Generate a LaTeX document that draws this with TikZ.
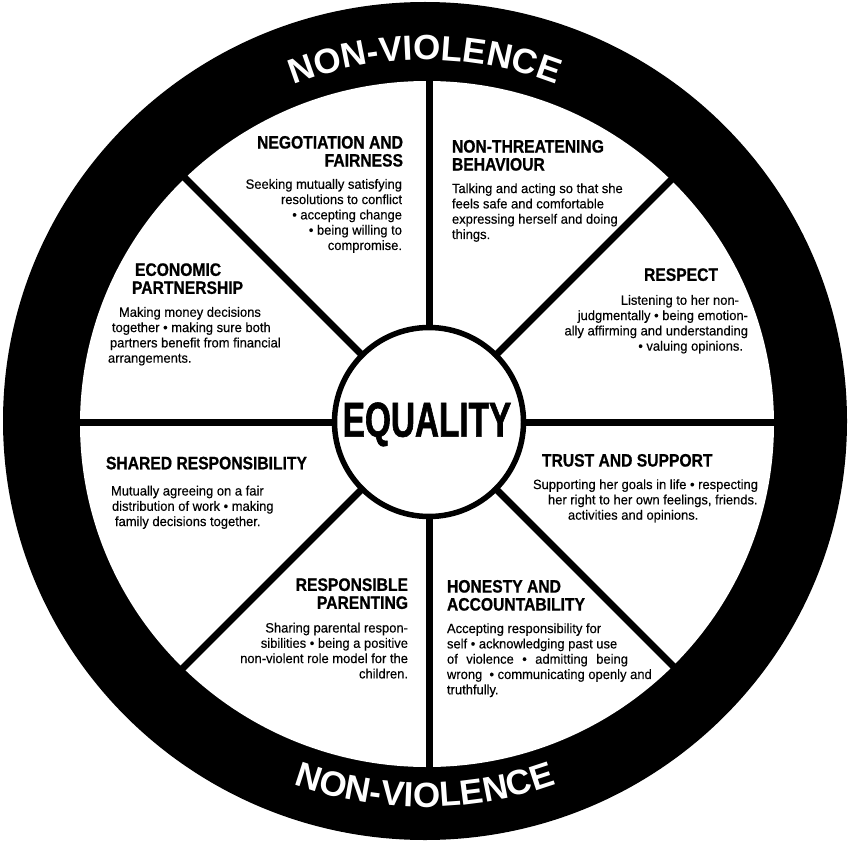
\documentclass[tikz,border=0pt]{standalone}
\usepackage{fontspec}
\usetikzlibrary{decorations.text}
\newfontfamily\hdfont{Liberation Sans}[FakeStretch=0.87, FakeBold=0.8]
\newfontfamily\bdfont{Liberation Sans}[FakeStretch=0.96, FakeBold=0.3]
\newfontfamily\eqfont{Liberation Sans}[FakeStretch=0.68, FakeBold=1.2]
\newfontfamily\rgfont{Liberation Sans}[LetterSpace=3]
\newcommand\ringstyle{\rgfont\bfseries\fontsize{35}{35}\selectfont}
\tikzset{
  head/.style={font=\hdfont\bfseries\fontsize{18}{18}\selectfont, inner sep=0pt, outer sep=0pt},
  body/.style={font=\bdfont\fontsize{13.5}{15.3}\selectfont, inner sep=0pt, outer sep=0pt},
  spoke/.style={line width=7pt},
  ringtext/.style={decorate, decoration={text along path, text align=center, text color=white, text={|\ringstyle|NON-VIOLENCE}}},
}
\begin{document}
\begin{tikzpicture}[x=1pt,y=1pt]
\useasboundingbox (0,0) rectangle (850,-842);
\fill[black] (425,-421) ellipse [x radius=422, y radius=419];
\fill[white] (427,-424) ellipse [x radius=347, y radius=343];
\coordinate (c) at (429,-422);
\coordinate (rc) at (425,-421);
\foreach \a in {0,45,...,315} {
  \coordinate (s\a) at ([shift={(\a:355)}]c);
  \draw[spoke] (c) -- (s\a);
}
\node[circle, draw=black, line width=5.5pt, fill=white, minimum size=189pt, inner sep=0pt] (eq) at (c) {};
\node[font=\eqfont\bfseries\fontsize{49}{49}\selectfont, anchor=base, inner sep=0pt] (eqt) at (427,-436.7) {EQUALITY};

\path[ringtext] ([shift={(160:361)}]rc) arc[start angle=160, end angle=20, radius=361];
\path[ringtext] ([shift={(200:386)}]rc) arc[start angle=200, end angle=340, radius=386];

\node[head, align=right, anchor=north east] (negh) at (403,-136) {NEGOTIATION AND\\FAIRNESS};
\node[body, align=right, anchor=north east] (negb) at (402,-179) {Seeking mutually satisfying\\resolutions to conflict\\• accepting change\\• being willing to\\compromise.};

\node[head, align=left, anchor=north west] (nth) at (452,-140) {NON-THREATENING\\BEHAVIOUR};
\node[body, align=left, anchor=north west] (ntb) at (452,-183.3) {Talking and acting so that she\\feels safe and comfortable\\expressing herself and doing\\things.};

\node[head, align=left, anchor=north west] (ech) at (132,-263.3) {\rule{3pt}{0pt}ECONOMIC\\PARTNERSHIP};
\node[body, align=left, anchor=north west] (ecb) at (108,-307) {\rule{11pt}{0pt}Making money decisions\\\rule{4pt}{0pt}together • making sure both\\\rule{2pt}{0pt}partners benefit from financial\\arrangements.};

\node[head, anchor=north east] (reh) at (718,-268.3) {RESPECT};
\node[body, align=right, anchor=north east] (reb) at (748,-295) {Listening to her non-\rule{9pt}{0pt}\\judgmentally • being emotion-\\ally affirming and understanding\\• valuing opinions.\rule{5pt}{0pt}};

\node[head, anchor=north west] (shh) at (106,-456.7) {SHARED RESPONSIBILITY};
\node[body, align=left, anchor=north west] (shb) at (111,-485.7) {Mutually agreeing on a fair\\\rule{1pt}{0pt}distribution of work • making\\\rule{4pt}{0pt}family decisions together.};

\node[head, anchor=north west] (trh) at (542,-454) {TRUST AND SUPPORT};
\node[body, align=left, anchor=north west] (trb) at (533,-479.3) {Supporting her goals in life • respecting\\\rule{15pt}{0pt}her right to her own feelings, friends.\\\rule{35pt}{0pt}activities and opinions.};

\node[head, align=right, anchor=north east] (rph) at (408,-578.3) {RESPONSIBLE\\PARENTING};
\node[body, align=right, anchor=north east] (rpb) at (408,-622.7) {Sharing parental respon-\\sibilities • being a positive\\non-violent role model for the\\children.};

\node[head, align=left, anchor=north west] (hoh) at (447,-580) {HONESTY AND\\ACCOUNTABILITY};
\node[body, align=left, anchor=north west] (hob) at (447,-623.3) {Accepting responsibility for\\self • acknowledging past use\\\makebox[181pt][s]{of violence • admitting being}\\wrong \ • communicating openly and\\truthfully.};
\end{tikzpicture}
\end{document}
